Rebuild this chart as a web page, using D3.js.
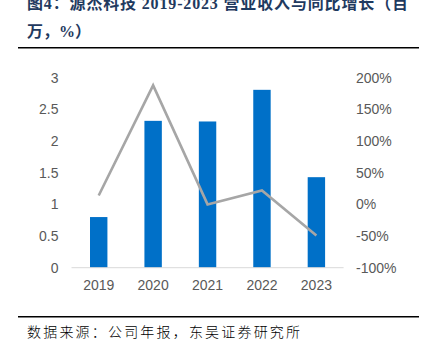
<!DOCTYPE html>
<html><head><meta charset="utf-8">
<script src="https://cdn.jsdelivr.net/npm/d3@7"></script>
<style>body{margin:0;background:#fff}svg{display:block}</style>
</head><body>
<svg id="c" width="426" height="346"></svg>
<script>
const years = ["2019","2020","2021","2022","2023"];
const revenue = [0.80, 2.32, 2.31, 2.81, 1.43];
const growth = [14, 188, 0, 22, -49];
const leftTicks = [0,0.5,1,1.5,2,2.5,3];
const rightTicks = [-100,-50,0,50,100,150,200];

const svg = d3.select("#c");
const x = d3.scaleBand().domain(years).range([71.5,343.6]).paddingInner(0.68).paddingOuter(0.34);
const xc = d => x(d)+x.bandwidth()/2;
const yL = d3.scaleLinear().domain([0,3]).range([267.7,77.8]);
const yR = d3.scaleLinear().domain([-100,200]).range([267.7,77.8]);

// title
const title = svg.append("g").attr("fill","#1f3a60").attr("font-weight","600")
  .attr("font-family","'Liberation Serif','Noto Sans CJK SC',serif").attr("font-size",16);
title.append("text").attr("x",27).attr("y",8.5).attr("textLength",381).attr("lengthAdjust","spacing")
  .text("图4：源杰科技 2019-2023 营业收入与同比增长（百");
title.append("text").attr("x",27).attr("y",37).text("万，%）");

svg.append("line").attr("x1",18).attr("x2",419).attr("y1",47.7).attr("y2",47.7).attr("stroke","#000").attr("stroke-width",1.6);
svg.append("line").attr("x1",18).attr("x2",419).attr("y1",316.7).attr("y2",316.7).attr("stroke","#000").attr("stroke-width",1.6);

svg.append("text").attr("x",27).attr("y",337).attr("font-size",14).attr("fill","#000")
  .attr("font-family","'Noto Sans CJK SC',sans-serif").attr("font-weight",300).attr("textLength",273).attr("lengthAdjust","spacing")
  .text("数据来源：公司年报，东吴证券研究所");

// bars
svg.append("g").selectAll("rect").data(years).join("rect")
  .attr("x",d=>x(d)).attr("width",x.bandwidth())
  .attr("y",(d,i)=>yL(revenue[i])).attr("height",(d,i)=>yL(0)-yL(revenue[i]))
  .attr("fill","#0070C8");

// baseline axis
svg.append("line").attr("x1",71.5).attr("x2",343.6).attr("y1",yL(0)).attr("y2",yL(0)).attr("stroke","#d9d9d9").attr("stroke-width",1);

// line
svg.append("path").datum(growth)
  .attr("d",d3.line().x((d,i)=>xc(years[i])).y(d=>yR(d)))
  .attr("fill","none").attr("stroke","#a6a6a6").attr("stroke-width",2.6).attr("stroke-linejoin","miter");

const font="'Liberation Sans',Arial,sans-serif";
const la = svg.append("g").attr("transform","translate(58.5,0)")
  .call(d3.axisLeft(yL).tickValues(leftTicks).tickSize(0).tickPadding(0).tickFormat(d3.format("~g")));
la.select(".domain").remove();
la.selectAll("text").attr("font-size",14).attr("fill","#595959").attr("font-family",font);

const ra = svg.append("g").attr("transform","translate(356,0)")
  .call(d3.axisRight(yR).tickValues(rightTicks).tickSize(0).tickPadding(0).tickFormat(d=>d+"%"));
ra.select(".domain").remove();
ra.selectAll("text").attr("font-size",14).attr("fill","#595959").attr("font-family",font);

const xa = svg.append("g").attr("transform",`translate(0,${yL(0)})`)
  .call(d3.axisBottom(x).tickSize(0).tickPadding(12));
xa.select(".domain").remove();
xa.selectAll("text").attr("font-size",14).attr("fill","#595959").attr("font-family",font);
</script>
</body></html>
